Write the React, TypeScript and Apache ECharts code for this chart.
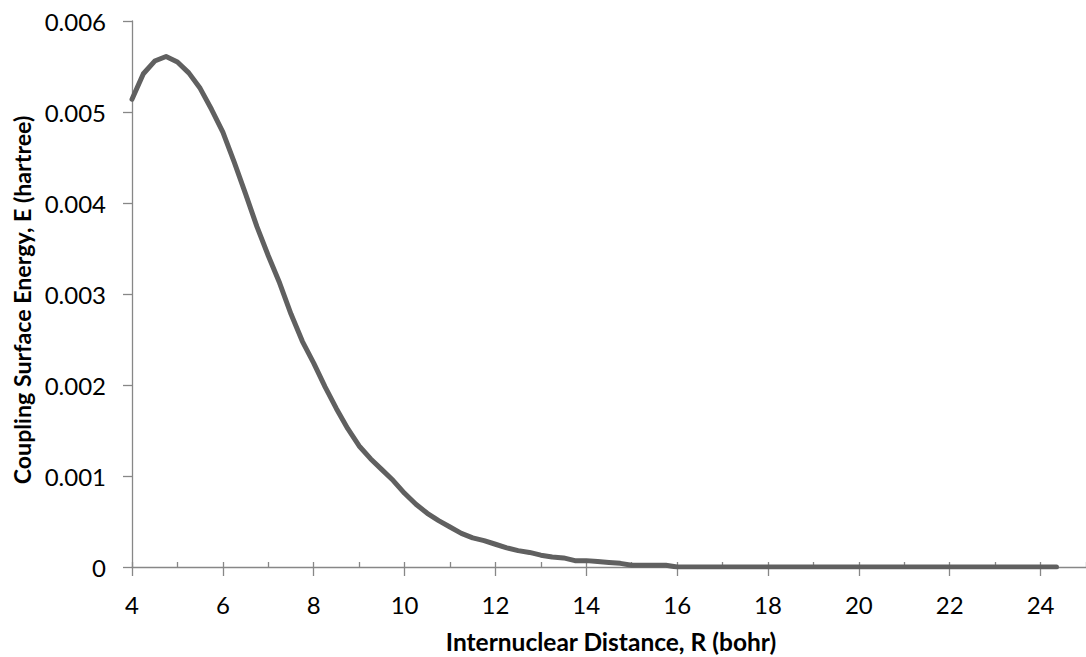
import React, { useEffect, useRef } from "react";
import * as echarts from "echarts";

const distanceR: number[] = [
  4.0, 4.25, 4.5, 4.75, 5.0, 5.25, 5.5, 5.75, 6.0, 6.25, 6.5, 6.75, 7.0, 7.25, 7.5, 7.75,
  8.0, 8.25, 8.5, 8.75, 9.0, 9.25, 9.5, 9.75, 10.0, 10.25, 10.5, 10.75, 11.0, 11.25, 11.5, 11.75,
  12.0, 12.25, 12.5, 12.75, 13.0, 13.25, 13.5, 13.75, 14.0, 14.25, 14.5, 14.75, 15.0, 15.25, 15.5, 15.75,
  16.0, 16.5, 17.0, 17.5, 18.0, 18.5, 19.0, 19.5, 20.0, 20.5, 21.0, 21.5, 22.0, 22.5, 23.0, 23.5, 24.0, 24.35,
];

const energyE: number[] = [
  0.00514, 0.00542, 0.00556, 0.00561, 0.00555, 0.00543, 0.00526, 0.00503, 0.00478, 0.00445, 0.0041, 0.00374, 0.00342, 0.00312, 0.00278, 0.00248,
  0.00224, 0.00198, 0.00174, 0.00152, 0.00133, 0.00119, 0.00107, 0.00095, 0.00081, 0.00069, 0.00059, 0.00051, 0.00044, 0.00037, 0.00032, 0.00029,
  0.00025, 0.00021, 0.00018, 0.00016, 0.00013, 0.00011, 0.0001, 0.00007, 0.00007, 0.00006, 0.00005, 0.00004, 0.00002, 0.00002, 0.00002, 0.00002,
  0, 0, 0, 0, 0, 0, 0, 0, 0, 0, 0, 0, 0, 0, 0, 0, 0, 0,
];

const xTitle = "Internuclear Distance, R (bohr)";
const yTitle = "Coupling Surface Energy, E (hartree)";

const FONT = "Lato, 'Open Sans', sans-serif";
const AXIS_GRAY = "#878787";

export default function App() {
  const ref = useRef<HTMLDivElement>(null);

  useEffect(() => {
    if (!ref.current) return;
    const chart = echarts.init(ref.current, undefined, { renderer: "svg" });
    const data = distanceR.map((r, i) => [r, energyE[i]]);
    chart.setOption({
      animation: false,
      backgroundColor: "#ffffff",
      grid: { left: 132, top: 21, right: -8, bottom: 90, containLabel: false },
      xAxis: [
        {
          type: "value",
          position: "bottom",
          min: 4,
          max: 25,
          interval: 2,
          axisLine: { show: true, onZero: false, lineStyle: { color: AXIS_GRAY, width: 1.3 } },
          axisTick: { show: true, inside: false, length: 9, lineStyle: { color: AXIS_GRAY, width: 1.3 } },
          axisLabel: {
            show: true,
            margin: 25,
            fontSize: 24,
            fontFamily: FONT,
            color: "#000",
            showMaxLabel: false,
          },
          splitLine: { show: false },
        },
        {
          type: "value",
          position: "bottom",
          min: 4,
          max: 25,
          interval: 1,
          axisLine: { show: false, onZero: false },
          axisTick: { show: true, inside: true, length: 5, lineStyle: { color: AXIS_GRAY, width: 1.3 } },
          axisLabel: { show: false },
          splitLine: { show: false },
        },
      ],
      yAxis: {
        type: "value",
        min: 0,
        max: 0.006,
        interval: 0.001,
        axisLine: { show: true, lineStyle: { color: AXIS_GRAY, width: 1.3 } },
        axisTick: { show: true, inside: false, length: 9, lineStyle: { color: AXIS_GRAY, width: 1.3 } },
        axisLabel: {
          margin: 26,
          fontSize: 24,
          fontFamily: FONT,
          color: "#000",
          formatter: (v: number) => (v === 0 ? "0" : v.toFixed(3)),
        },
        splitLine: { show: false },
      },
      graphic: [
        {
          type: "text",
          x: 611,
          y: 641,
          style: {
            text: xTitle,
            fontSize: 24.5,
            fontWeight: "bold",
            fontFamily: FONT,
            fill: "#000",
            align: "center",
            verticalAlign: "middle",
          },
        },
        {
          type: "text",
          x: 22,
          y: 300,
          rotation: Math.PI / 2,
          style: {
            text: yTitle,
            fontSize: 23.2,
            fontWeight: "bold",
            fontFamily: FONT,
            fill: "#000",
            align: "center",
            verticalAlign: "middle",
          },
        },
      ],
      series: [
        {
          type: "line",
          xAxisIndex: 0,
          data,
          showSymbol: false,
          symbol: "none",
          smooth: false,
          lineStyle: { color: "#606060", width: 5, cap: "round", join: "round" },
        },
      ],
    });
    return () => chart.dispose();
  }, []);

  return (
    <div
      ref={ref}
      style={{ position: "absolute", left: 0, top: 0, width: 1086, height: 657 }}
    />
  );
}
